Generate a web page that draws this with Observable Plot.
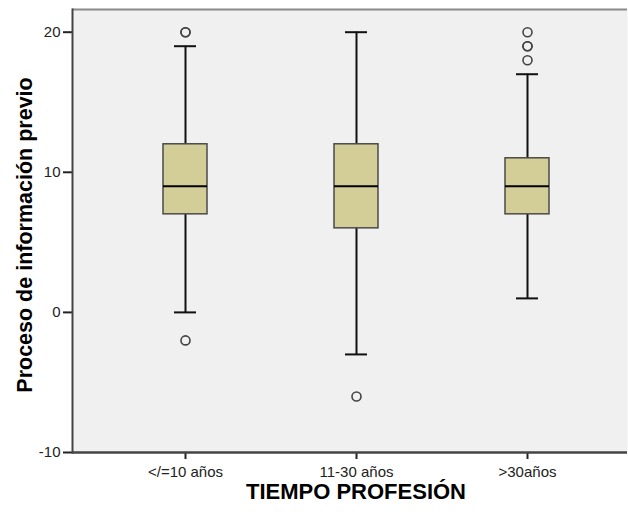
<!DOCTYPE html>
<html>
<head>
<meta charset="utf-8">
<script src="https://cdn.jsdelivr.net/npm/d3@7"></script>
<script src="https://cdn.jsdelivr.net/npm/@observablehq/plot@0.6"></script>
<style>
  html, body { margin: 0; padding: 0; background: #fff; }
</style>
</head>
<body>
<div id="chart"></div>
<script>
// Categories of professional tenure
const groups = ["</=10 años", "11-30 años", ">30años"];

// Box-plot summary per group
const lowerWhisker = [0, -3, 1];
const q1 = [7, 6, 7];
const median = [9, 9, 9];
const q3 = [12, 12, 11];
const upperWhisker = [19, 20, 17];

// Outlying observations (group, value)
const outlierGroup = ["</=10 años", "</=10 años", "</=10 años", "11-30 años", ">30años", ">30años", ">30años", ">30años"];
const outlierValue = [20, 20, -2, -6, 20, 19, 19, 18];

// Axis ticks
const yTicks = [-10, 0, 10, 20];

const boxes = groups.map((g, i) => ({
  group: g, lo: lowerWhisker[i], q1: q1[i], med: median[i], q3: q3[i], hi: upperWhisker[i]
}));
const outliers = outlierGroup.map((g, i) => ({ group: g, value: outlierValue[i] }));

const yMax = 21.62;

const chart = Plot.plot({
  width: 628,
  height: 512,
  marginLeft: 72,
  marginRight: 1,
  marginTop: 9,
  marginBottom: 60,
  style: {
    fontFamily: "'Liberation Sans', Arial, sans-serif",
    fontSize: "15px",
    color: "#222",
    background: "#fff"
  },
  x: {
    type: "band",
    domain: groups,
    range: [163, 549],
    paddingInner: 0.743,
    paddingOuter: 0,
    label: null,
    tickSize: 7,
    tickPadding: 7
  },
  y: {
    domain: [-10, yMax],
    ticks: yTicks,
    tickSize: 9,
    tickPadding: 3,
    tickFormat: d => String(d),
    label: null
  },
  marks: [
    Plot.frame({ fill: "#f0f0f0", stroke: null }),
    // whiskers
    Plot.ruleX(boxes, { x: "group", y1: "lo", y2: "hi", stroke: "#111", strokeWidth: 2 }),
    // whisker caps
    Plot.tickY(boxes, { x: "group", y: "lo", stroke: "#111", strokeWidth: 2, insetLeft: 11, insetRight: 11 }),
    Plot.tickY(boxes, { x: "group", y: "hi", stroke: "#111", strokeWidth: 2, insetLeft: 11, insetRight: 11 }),
    // interquartile boxes
    Plot.barY(boxes, { x: "group", y1: "q1", y2: "q3", fill: "#d3ce97", stroke: "#4a4a4a", strokeWidth: 1.5 }),
    // medians
    Plot.tickY(boxes, { x: "group", y: "med", stroke: "#000", strokeWidth: 3 }),
    // outliers
    Plot.dot(outliers, { x: "group", y: "value", r: 4.5, fill: "none", stroke: "#444", strokeWidth: 1.6 }),
    // plot borders
    Plot.ruleY([yMax], { stroke: "#8a8a8a", strokeWidth: 2 }),
    Plot.ruleY([-10], { stroke: "#444", strokeWidth: 2.5 }),
    Plot.frame({ anchor: "left", stroke: "#444", strokeWidth: 2 }),
    // axis titles
    Plot.text(["Proceso de información previo"], {
      frameAnchor: "left", rotate: -90, dx: -47, dy: 4, textAnchor: "middle",
      fontSize: 21.5, fontWeight: "bold", fill: "#000"
    }),
    Plot.text(["TIEMPO PROFESIÓN"], {
      frameAnchor: "bottom", dy: 46, dx: 6,
      fontSize: 22, fontWeight: "bold", fill: "#000"
    })
  ]
});

d3.select(chart).selectAll("[aria-label$='tick'] path, [aria-label$='tick'] line").attr("stroke-width", 2);
document.getElementById("chart").appendChild(chart);
</script>
</body>
</html>
